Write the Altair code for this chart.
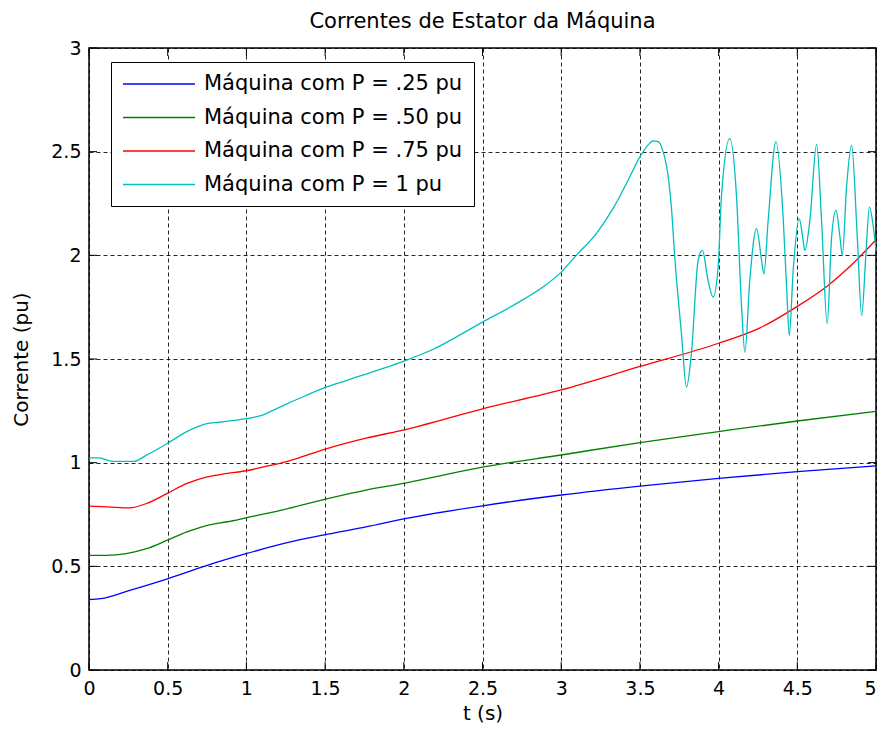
import altair as alt
import pandas as pd

# ---- data ----
t_025 = [0, 0.075, 0.258, 0.498, 0.751, 0.998, 1.266, 1.517, 1.76, 2.017, 2.5, 3.0, 3.5, 4.0, 4.5, 5.0]
i_025 = [0.340, 0.344, 0.384, 0.440, 0.505, 0.561, 0.615, 0.655, 0.690, 0.731, 0.792, 0.844, 0.887, 0.924, 0.957, 0.985]

t_050 = [0, 0.107, 0.236, 0.365, 0.498, 0.622, 0.751, 0.88, 0.998, 1.223, 1.517, 1.76, 2.017, 2.5, 3.0, 3.5, 4.0, 4.5, 5.0]
i_050 = [0.553, 0.553, 0.561, 0.585, 0.626, 0.666, 0.698, 0.715, 0.734, 0.771, 0.827, 0.868, 0.903, 0.978, 1.037, 1.097, 1.150, 1.201, 1.247]

t_075 = [0, 0.118, 0.258, 0.365, 0.498, 0.622, 0.751, 0.88, 0.998, 1.137, 1.266, 1.517, 1.76, 2.017, 2.5, 3.0, 3.5, 4.0, 4.26, 4.5, 4.687, 4.857, 5.0]
i_075 = [0.790, 0.787, 0.782, 0.803, 0.852, 0.900, 0.932, 0.948, 0.961, 0.984, 1.008, 1.069, 1.118, 1.161, 1.260, 1.351, 1.464, 1.576, 1.649, 1.754, 1.850, 1.963, 2.075]

t_100 = [0, 0.064, 0.148, 0.286, 0.36, 0.492, 0.615, 0.742, 0.827, 0.986, 1.092, 1.209, 1.378, 1.505, 1.633,
         2.0, 2.17, 2.5, 2.714, 2.884, 3.0, 3.096, 3.223, 3.329, 3.425, 3.5, 3.562, 3.583, 3.616, 3.637,
         3.700, 3.721, 3.764, 3.796, 3.827, 3.870, 3.897, 3.933, 3.965, 3.997, 4.018, 4.071, 4.114, 4.145,
         4.167, 4.198, 4.241, 4.273, 4.288, 4.315, 4.364, 4.411, 4.432, 4.449, 4.474, 4.512, 4.534, 4.548,
         4.580, 4.623, 4.654, 4.690, 4.718, 4.746, 4.771, 4.786, 4.813, 4.845, 4.881, 4.909, 4.936, 4.958,
         4.983, 5.0]
i_100 = [1.023, 1.023, 1.006, 1.006, 1.034, 1.090, 1.147, 1.187, 1.195, 1.211, 1.227, 1.267, 1.324, 1.364, 1.396,
         1.490, 1.541, 1.678, 1.767, 1.847, 1.919, 2.0, 2.105, 2.225, 2.362, 2.475, 2.540, 2.552, 2.548, 2.523,
         2.233, 1.997, 1.622, 1.364, 1.525, 1.976, 2.024, 1.879, 1.799, 1.944, 2.282, 2.564, 2.282, 1.767,
         1.533, 1.879, 2.129, 1.976, 1.911, 2.169, 2.547, 2.169, 1.847, 1.614, 1.928, 2.177, 2.089, 2.024,
         2.169, 2.536, 2.169, 1.670, 2.089, 2.217, 2.089, 2.0, 2.330, 2.531, 2.089, 1.710, 2.008, 2.233,
         2.137, 2.024]

series_names = ["Máquina com P = .25 pu", "Máquina com P = .50 pu",
                "Máquina com P = .75 pu", "Máquina com P = 1 pu"]
series_colors = ["#0000FF", "#008000", "#FF0000", "#00BFBF"]

x_ticks = [0, 0.5, 1, 1.5, 2, 2.5, 3, 3.5, 4, 4.5, 5]
y_ticks = [0, 0.5, 1, 1.5, 2, 2.5, 3]

title_text = "Correntes de Estator da Máquina"
x_title = "t (s)"
y_title = "Corrente (pu)"

# ---- build tables ----
rows = []
for name, ts, vs in zip(series_names, [t_025, t_050, t_075, t_100], [i_025, i_050, i_075, i_100]):
    for k, (tt, vv) in enumerate(zip(ts, vs)):
        rows.append({"serie": name, "t": tt, "i": vv, "k": k})
df = pd.DataFrame(rows)

FONT = "DejaVu Sans"
W, H = 787, 622
X0, X1, Y0, Y1 = 0, 5, 0, 3
TICK_PX = 8
dx = (X1 - X0) * TICK_PX / W
dy = (Y1 - Y0) * TICK_PX / H

xscale = alt.Scale(domain=[X0, X1], nice=False, zero=False)
yscale = alt.Scale(domain=[Y0, Y1], nice=False, zero=False)

x_axis = alt.Axis(title=x_title, values=x_ticks, format="~g", labelPadding=9,
                  titlePadding=5, ticks=False, tickSize=0, domain=False,
                  grid=True, gridColor="black", gridDash=[4, 3], gridWidth=1,
                  gridOpacity=0.85, labelFlush=False, labelOverlap=False,
                  labelAlign={"condition": {"test": f"datum.value >= {X1}", "value": "right"},
                              "value": "center"})
y_axis = alt.Axis(title=y_title, values=y_ticks, format="~g", labelPadding=8,
                  titlePadding=19, ticks=False, tickSize=0, domain=False,
                  grid=True, gridColor="black", gridDash=[4, 3], gridWidth=1,
                  gridOpacity=0.85, labelFlush=False, labelOverlap=False)

lines = alt.Chart(df).mark_line(strokeWidth=1.3, interpolate="monotone").encode(
    x=alt.X("t:Q", scale=xscale, axis=x_axis),
    y=alt.Y("i:Q", scale=yscale, axis=y_axis),
    color=alt.Color("serie:N",
                    scale=alt.Scale(domain=series_names, range=series_colors),
                    legend=alt.Legend(title=None, orient="none", legendX=22, legendY=14,
                                      symbolType="M-1,0H6.2", symbolSize=400,
                                      symbolStrokeWidth=1.5, labelOffset=60,
                                      labelFont=FONT, labelFontSize=21, labelColor="black",
                                      fillColor="white", strokeColor="black",
                                      padding=11, rowPadding=12.5, labelLimit=400)),
    order="k:Q",
)

xt = pd.DataFrame({"v": x_ticks})
yt = pd.DataFrame({"v": y_ticks})

tick_bottom = alt.Chart(xt).mark_rule(color="black", strokeWidth=1).encode(
    x=alt.X("v:Q", scale=xscale, axis=x_axis), y=alt.datum(Y0), y2=alt.datum(Y0 + dy))
tick_top = alt.Chart(xt).mark_rule(color="black", strokeWidth=1).encode(
    x=alt.X("v:Q", scale=xscale, axis=x_axis), y=alt.datum(Y1), y2=alt.datum(Y1 - dy))
tick_left = alt.Chart(yt).mark_rule(color="black", strokeWidth=1).encode(
    y=alt.Y("v:Q", scale=yscale, axis=y_axis), x=alt.datum(X0), x2=alt.datum(X0 + dx))
tick_right = alt.Chart(yt).mark_rule(color="black", strokeWidth=1).encode(
    y=alt.Y("v:Q", scale=yscale, axis=y_axis), x=alt.datum(X1), x2=alt.datum(X1 - dx))

chart = alt.layer(lines, tick_bottom, tick_top, tick_left, tick_right).properties(
    width=W, height=H,
    title=alt.TitleParams(title_text, font=FONT, fontSize=21, fontWeight="normal",
                          color="black", offset=7, anchor="middle"),
    autosize=alt.AutoSizeParams(type="none"),
    padding={"left": 81, "right": 3, "top": 40, "bottom": 55},
    background="white",
).configure_view(
    stroke="black", strokeWidth=1.5, fill="white"
).configure_axis(
    labelFont=FONT, labelFontSize=19, labelColor="black",
    titleFont=FONT, titleFontSize=20, titleFontWeight="normal", titleColor="black",
)

chart.save("out.html", embed_options={"renderer": "svg", "actions": False})
